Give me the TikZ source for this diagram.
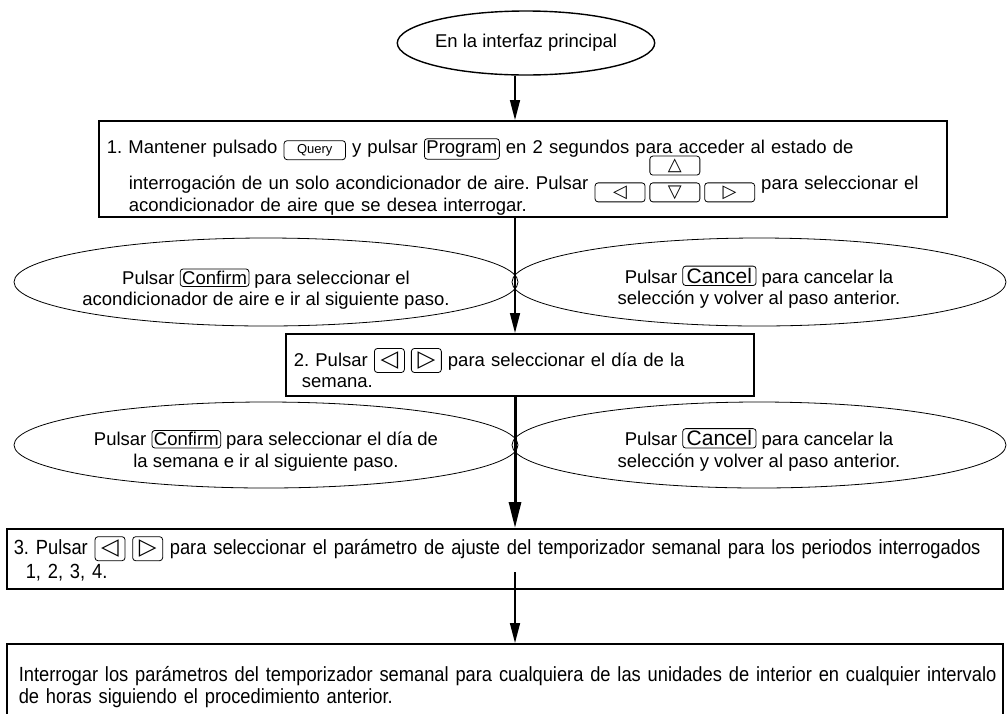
\documentclass[tikz,border=0pt]{standalone}
\usepackage{fontspec}
\setmainfont{Liberation Sans}
\newfontfamily\narrowfont{Liberation Sans}[FakeStretch=0.893]
\newfontfamily\symfont{DejaVu Sans}
\usetikzlibrary{shapes.geometric,arrows.meta,positioning}
\newcommand{\mainsize}{\fontsize{18.5}{21.5}\selectfont}
\newcommand{\narrowsize}{\narrowfont\fontsize{20.5}{22}\selectfont}
\newcommand{\dropstrut}[1]{\rule{0pt}{#1}}
\frenchspacing
\hyphenpenalty=10000
\tikzset{
  stepbox/.style={rectangle,draw=black,line width=1.6pt,align=left,anchor=north west,
                  inner xsep=8pt,inner ysep=0pt,font=\mainsize},
  startell/.style={ellipse,draw=black,line width=1.4pt,minimum width=248pt,
                   minimum height=64pt,inner sep=0pt,font=\mainsize},
  choiceell/.style={ellipse,draw=black,line width=0.8pt,minimum height=88pt,
                    inner xsep=-20pt,inner ysep=0pt,align=center,font=\mainsize},
  keycap/.style={rectangle,draw=black,rounded corners=3pt,line width=0.8pt,anchor=center,
                 text width={},align=center,minimum width=0pt,minimum height=0pt,
                 inner xsep=2pt,inner ysep=2pt},
  arrkey/.style={keycap,minimum width=50pt,minimum height=19pt,inner sep=0pt,
                 font=\symfont\fontsize{18}{18}\selectfont},
  sqkey/.style={keycap,minimum width=30pt,minimum height=24pt,inner sep=0pt,
                font=\symfont\fontsize{23}{23}\selectfont},
  flow/.style={-{Triangle[length=20pt,width=10pt]},line width=1.5pt},
}
% inline keys
\newcommand{\keycap}[2][]{\tikz[baseline=(kc.base)]\node[keycap,#1](kc){#2};}
\newcommand{\sqk}[1]{\tikz[baseline=(sk.base)]\node[sqkey](sk){#1};}
\newcommand{\arrowpad}{\smash{\tikz[baseline=2.5pt]{%
  \node[arrkey](padl){◁};
  \node[arrkey,right=4pt of padl](padd){▽};
  \node[arrkey,right=4pt of padd](padr){▷};
  \node[arrkey,above=7pt of padd](padu){△};}}}
\begin{document}
\begin{tikzpicture}[x=1pt,y=-1pt]
  \useasboundingbox (0,0) rectangle (1008,713);
  \coordinate (axis) at (515,0);

  \node[startell] (start) at (526,43) {En la interfaz principal};

  \node[stepbox,minimum width=848pt,minimum height=96pt,text width=832pt] (box1) at (98,120)
    {\dropstrut{31pt}1. Mantener pulsado \keycap[font=\fontsize{13}{13}\selectfont,inner xsep=13pt,minimum height=19pt]{Query}
     y pulsar \keycap{Program} en 2 segundos para acceder al estado de\\[15pt]
     \hspace*{22pt}interrogación de un solo acondicionador de aire. Pulsar \arrowpad\ para seleccionar el\\
     \hspace*{22pt}acondicionador de aire que se desea interrogar.};

  % first choice
  \node[choiceell,minimum width=504pt] (conf1) at (266,282)
    {\dropstrut{30pt}Pulsar \keycap{Confirm} para seleccionar el\\acondicionador de aire e ir al siguiente paso.};
  \node[choiceell,minimum width=494pt] (canc1) at (759,282)
    {\dropstrut{28pt}Pulsar \keycap[font=\fontsize{21}{21}\selectfont,inner xsep=4pt]{Cancel} para cancelar la\\selección y volver al paso anterior.};

  \node[stepbox,minimum width=468pt,minimum height=62pt,text width=452pt] (box2) at (285,333)
    {\dropstrut{25pt}2. Pulsar \sqk{◁} \sqk{▷} para seleccionar el día de la\\
     \hspace*{8pt}semana.};

  % second choice
  \node[choiceell,minimum width=504pt,minimum height=86pt] (conf2) at (266,445)
    {\dropstrut{27pt}Pulsar \keycap{Confirm} para seleccionar el día de\\la semana e ir al siguiente paso.};
  \node[choiceell,minimum width=494pt,minimum height=86pt] (canc2) at (759,445)
    {\dropstrut{27pt}Pulsar \keycap[font=\fontsize{21}{21}\selectfont,inner xsep=4pt]{Cancel} para cancelar la\\selección y volver al paso anterior.};

  \node[stepbox,font=\narrowsize,inner xsep=7pt,minimum width=996pt,minimum height=60pt,text width=982pt] (box3) at (6,528)
    {\mbox{3. Pulsar \sqk{◁} \sqk{▷} para seleccionar el parámetro de ajuste del temporizador semanal para los periodos interrogados}\\[2pt]
     \hspace*{12pt}1, 2, 3, 4.};

  \node[stepbox,font=\narrowsize,inner xsep=12pt,minimum width=996pt,minimum height=86pt,text width=972pt] (box4) at (6,643)
    {\mbox{Interrogar los parámetros del temporizador semanal para cualquiera de las unidades de interior en cualquier intervalo}\\
     de horas siguiendo el procedimiento anterior.};

  \coordinate (b3tail) at (515,572);

  \draw[flow] (start.south -| axis) -- (box1.north -| axis);
  \draw[flow] (box1.south -| axis) -- (box2.north -| axis);
  \draw[flow,line width=3pt,-{Triangle[length=26pt,width=12pt]}] (box2.south -| axis) -- (box3.north -| axis);
  \draw[flow] (b3tail) -- (box4.north -| axis);
\end{tikzpicture}
\end{document}
